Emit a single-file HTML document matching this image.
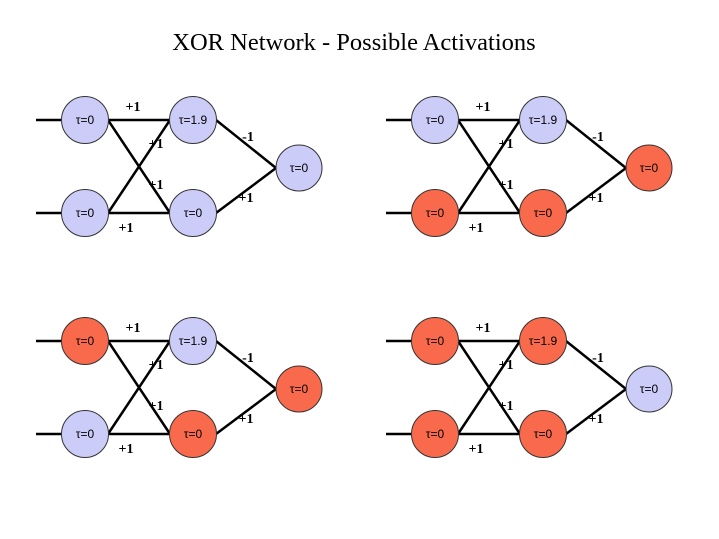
<!DOCTYPE html>
<html><head><meta charset="utf-8"><style>body{margin:0;background:#fff}svg{display:block}</style></head>
<body>
<svg width="719" height="539" viewBox="0 0 719 539" xmlns="http://www.w3.org/2000/svg">
<rect width="719" height="539" fill="#fff"/>
<text x="354" y="50" text-anchor="middle" font-family="Liberation Serif, serif" font-size="24.5">XOR Network - Possible Activations</text>
<defs>
<g id="edges" stroke="#000" stroke-width="2.5" fill="none">
<line x1="36" y1="120" x2="61" y2="120"/>
<line x1="36" y1="213" x2="61" y2="213"/>
<line x1="108" y1="120" x2="170" y2="120"/>
<line x1="108" y1="213" x2="170" y2="213"/>
<line x1="108" y1="120" x2="170" y2="213"/>
<line x1="108" y1="213" x2="170" y2="120"/>
<line x1="216" y1="120" x2="276" y2="168"/>
<line x1="216" y1="213" x2="276" y2="168"/>
</g>
<g id="labels" font-family="Liberation Serif, serif" font-size="14" font-weight="bold">
<text x="133" y="111">+1</text>
<text x="156" y="148">+1</text>
<text x="156" y="189">+1</text>
<text x="126" y="232">+1</text>
<text x="248" y="141">-1</text>
<text x="246" y="202">+1</text>
</g>
</defs>
<g font-family="Liberation Sans, sans-serif" font-size="12" text-anchor="middle" stroke-width="1">
<g transform="translate(0,0)">
<use href="#edges"/><use href="#labels"/>
<circle cx="85" cy="120" r="23.5" fill="#ccccf8" stroke="#333"/><text x="85" y="124">τ=0</text>
<circle cx="85" cy="213" r="23.5" fill="#ccccf8" stroke="#333"/><text x="85" y="217">τ=0</text>
<circle cx="193" cy="120" r="23.5" fill="#ccccf8" stroke="#333"/><text x="193" y="124">τ=1.9</text>
<circle cx="193" cy="213" r="23.5" fill="#ccccf8" stroke="#333"/><text x="193" y="217">τ=0</text>
<circle cx="299" cy="168" r="23" fill="#ccccf8" stroke="#333"/><text x="299" y="172">τ=0</text>
</g>
<g transform="translate(350,0)">
<use href="#edges"/><use href="#labels"/>
<circle cx="85" cy="120" r="23.5" fill="#ccccf8" stroke="#333"/><text x="85" y="124">τ=0</text>
<circle cx="85" cy="213" r="23.5" fill="#f96a4c" stroke="#333"/><text x="85" y="217">τ=0</text>
<circle cx="193" cy="120" r="23.5" fill="#ccccf8" stroke="#333"/><text x="193" y="124">τ=1.9</text>
<circle cx="193" cy="213" r="23.5" fill="#f96a4c" stroke="#333"/><text x="193" y="217">τ=0</text>
<circle cx="299" cy="168" r="23" fill="#f96a4c" stroke="#333"/><text x="299" y="172">τ=0</text>
</g>
<g transform="translate(0,221)">
<use href="#edges"/><use href="#labels"/>
<circle cx="85" cy="120" r="23.5" fill="#f96a4c" stroke="#333"/><text x="85" y="124">τ=0</text>
<circle cx="85" cy="213" r="23.5" fill="#ccccf8" stroke="#333"/><text x="85" y="217">τ=0</text>
<circle cx="193" cy="120" r="23.5" fill="#ccccf8" stroke="#333"/><text x="193" y="124">τ=1.9</text>
<circle cx="193" cy="213" r="23.5" fill="#f96a4c" stroke="#333"/><text x="193" y="217">τ=0</text>
<circle cx="299" cy="168" r="23" fill="#f96a4c" stroke="#333"/><text x="299" y="172">τ=0</text>
</g>
<g transform="translate(350,221)">
<use href="#edges"/><use href="#labels"/>
<circle cx="85" cy="120" r="23.5" fill="#f96a4c" stroke="#333"/><text x="85" y="124">τ=0</text>
<circle cx="85" cy="213" r="23.5" fill="#f96a4c" stroke="#333"/><text x="85" y="217">τ=0</text>
<circle cx="193" cy="120" r="23.5" fill="#f96a4c" stroke="#333"/><text x="193" y="124">τ=1.9</text>
<circle cx="193" cy="213" r="23.5" fill="#f96a4c" stroke="#333"/><text x="193" y="217">τ=0</text>
<circle cx="299" cy="168" r="23" fill="#ccccf8" stroke="#333"/><text x="299" y="172">τ=0</text>
</g>
</g>
</svg>
</body></html>
